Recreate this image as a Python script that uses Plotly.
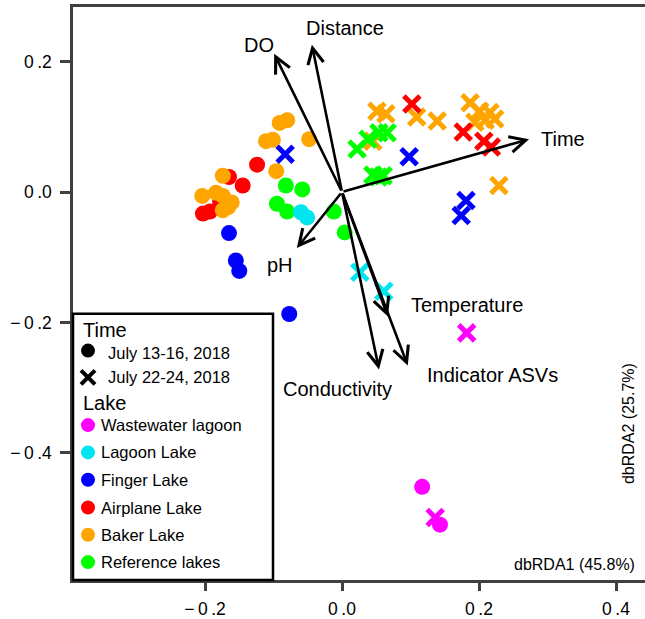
import plotly.graph_objects as go

# ---------------- data (site scores on dbRDA1 / dbRDA2) ----------------
lake_names = ["Wastewater lagoon", "Lagoon Lake", "Finger Lake",
              "Airplane Lake", "Baker Lake", "Reference lakes"]
lake_colors = ["#FF00FF", "#00E5EE", "#0000FF", "#FF0000", "#FFA500", "#00FF00"]
time_names = ["July 13-16, 2018", "July 22-24, 2018"]

# July 13-16 (circles)
wastewater_t1_x = [0.117, 0.143]
wastewater_t1_y = [-0.452, -0.510]
lagoon_t1_x = [-0.060, -0.051]
lagoon_t1_y = [-0.031, -0.039]
finger_t1_x = [-0.165, -0.155, -0.150, -0.077]
finger_t1_y = [-0.063, -0.105, -0.121, -0.187]
airplane_t1_x = [-0.124, -0.145, -0.203, -0.193, -0.165, -0.178]
airplane_t1_y = [0.042, 0.010, -0.033, -0.030, 0.023, -0.015]
baker_t1_x = [-0.091, -0.080, -0.111, -0.101, -0.048, -0.096, -0.174,
              -0.204, -0.184, -0.174, -0.166, -0.161, -0.174]
baker_t1_y = [0.106, 0.110, 0.078, 0.080, 0.081, 0.032, 0.025,
              -0.006, -0.001, -0.006, -0.023, -0.016, -0.028]
reference_t1_x = [-0.082, -0.058, -0.095, -0.080, -0.012, 0.004]
reference_t1_y = [0.010, 0.004, -0.018, -0.030, -0.030, -0.062]

# July 22-24 (crosses)
wastewater_t2_x = [0.136, 0.182]
wastewater_t2_y = [-0.499, -0.216]
lagoon_t2_x = [0.026, 0.061]
lagoon_t2_y = [-0.123, -0.152]
finger_t2_x = [-0.083, 0.098, 0.181, 0.174]
finger_t2_y = [0.058, 0.054, -0.013, -0.036]
airplane_t2_x = [0.102, 0.177, 0.207, 0.218]
airplane_t2_y = [0.135, 0.092, 0.078, 0.069]
baker_t2_x = [0.051, 0.064, 0.045, 0.109, 0.139, 0.187, 0.201, 0.216,
              0.209, 0.223, 0.194, 0.229]
baker_t2_y = [0.124, 0.120, 0.078, 0.115, 0.109, 0.137, 0.124, 0.122,
              0.110, 0.112, 0.107, 0.010]
reference_t2_x = [0.022, 0.038, 0.054, 0.066, 0.045, 0.060, 0.053]
reference_t2_y = [0.066, 0.081, 0.091, 0.091, 0.026, 0.025, 0.023]

# environmental vectors (biplot arrows) and their label positions
env_names = ["DO", "Distance", "Time", "pH", "Temperature",
             "Conductivity", "Indicator ASVs"]
env_x = [-0.099, -0.044, 0.273, -0.066, 0.067, 0.054, 0.096]
env_y = [0.212, 0.226, 0.081, -0.086, -0.191, -0.272, -0.266]
env_label_x = [-0.121, 0.004, 0.323, -0.0905, 0.1825, -0.006, 0.219]
env_label_y = [0.226, 0.252, 0.081, -0.112, -0.173, -0.302, -0.281]

x_tick_vals = [-0.2, 0.0, 0.2, 0.4]
x_tick_text = ["\u2212\u20090\u2009.2", "0\u2009.0", "0\u2009.2", "0\u2009.4"]
y_tick_vals = [-0.4, -0.2, 0.0, 0.2]
y_tick_text = ["\u2212\u20090\u2009.4", "\u2212\u20090\u2009.2", "0\u2009.0", "0\u2009.2"]

x_title = "dbRDA1 (45.8%)"
y_title = "dbRDA2 (25.7%)"

# ---------------- figure ----------------
FONT = "Liberation Sans, Arial, Helvetica, sans-serif"
W, H = 645, 619
PL, PR, PT, PB = 73, 645, 7, 584


def px_x(p):
    return (p - PL) / (PR - PL)


def px_y(p):
    return (PB - p) / (PB - PT)


fig = go.Figure()

t1 = {
    "Airplane Lake": (airplane_t1_x, airplane_t1_y),
    "Baker Lake": (baker_t1_x, baker_t1_y),
    "Reference lakes": (reference_t1_x, reference_t1_y),
    "Lagoon Lake": (lagoon_t1_x, lagoon_t1_y),
    "Finger Lake": (finger_t1_x, finger_t1_y),
    "Wastewater lagoon": (wastewater_t1_x, wastewater_t1_y),
}
t2 = {
    "Baker Lake": (baker_t2_x, baker_t2_y),
    "Airplane Lake": (airplane_t2_x, airplane_t2_y),
    "Reference lakes": (reference_t2_x, reference_t2_y),
    "Lagoon Lake": (lagoon_t2_x, lagoon_t2_y),
    "Finger Lake": (finger_t2_x, finger_t2_y),
    "Wastewater lagoon": (wastewater_t2_x, wastewater_t2_y),
}
color_of = dict(zip(lake_names, lake_colors))

for name, (xs, ys) in t1.items():
    fig.add_trace(go.Scatter(
        x=xs, y=ys, mode="markers", showlegend=False, hoverinfo="skip",
        marker=dict(symbol="circle", size=16, color=color_of[name],
                    line=dict(width=0))))
for name, (xs, ys) in t2.items():
    fig.add_trace(go.Scatter(
        x=xs, y=ys, mode="markers", showlegend=False, hoverinfo="skip",
        marker=dict(symbol="x-thin", size=16, color=color_of[name],
                    line=dict(width=5, color=color_of[name]))))

annotations = []
for ex, ey in zip(env_x, env_y):
    annotations.append(dict(
        x=ex, y=ey, xref="x", yref="y", ax=0, ay=0, axref="x", ayref="y",
        text="", showarrow=True, arrowhead=5, arrowsize=1.2,
        arrowwidth=2.6, arrowcolor="black", standoff=0))
for name, lx, ly in zip(env_names, env_label_x, env_label_y):
    annotations.append(dict(
        x=lx, y=ly, xref="x", yref="y", text=name, showarrow=False,
        xanchor="center", yanchor="middle",
        font=dict(family=FONT, size=20, color="black")))

# axis titles (drawn inside the frame)
annotations.append(dict(
    x=px_x(637), y=px_y(568), xref="paper", yref="paper", text=x_title,
    showarrow=False, xanchor="right", yanchor="middle",
    font=dict(family=FONT, size=16, color="black")))
annotations.append(dict(
    x=px_x(628), y=px_y(427), xref="paper", yref="paper", text=y_title,
    showarrow=False, textangle=-90, xanchor="center", yanchor="middle",
    font=dict(family=FONT, size=16, color="black")))

# ---------------- legend (drawn by hand) ----------------
shapes = [dict(type="rect", xref="paper", yref="paper",
               x0=px_x(73), x1=px_x(273), y0=px_y(584), y1=px_y(316),
               line=dict(color="black", width=2.5), fillcolor="white",
               layer="above")]

annotations.append(dict(
    x=px_x(81), y=px_y(332), xref="paper", yref="paper", text="Time",
    showarrow=False, xanchor="left", yanchor="middle",
    font=dict(family=FONT, size=20, color="black")))
annotations.append(dict(
    x=px_x(81), y=px_y(406), xref="paper", yref="paper", text="Lake",
    showarrow=False, xanchor="left", yanchor="middle",
    font=dict(family=FONT, size=20, color="black")))

# time entries
shapes.append(dict(type="circle", xref="paper", yref="paper",
                   xsizemode="pixel", ysizemode="pixel",
                   xanchor=px_x(88), yanchor=px_y(353),
                   x0=-7, x1=7, y0=-7, y1=7,
                   fillcolor="black", line=dict(width=0), layer="above"))
for sx in (1, -1):
    shapes.append(dict(type="line", xref="paper", yref="paper",
                       xsizemode="pixel", ysizemode="pixel",
                       xanchor=px_x(88), yanchor=px_y(380),
                       x0=-7, x1=7, y0=-7 * sx, y1=7 * sx,
                       line=dict(color="black", width=4), layer="above"))
for tname, ty in zip(time_names, [355, 380]):
    annotations.append(dict(
        x=px_x(106), y=px_y(ty), xref="paper", yref="paper", text=tname,
        showarrow=False, xanchor="left", yanchor="middle",
        font=dict(family=FONT, size=16.5, color="black")))

lake_rows = [428, 455.5, 483, 511, 538.5, 566]
for lname, lcol, ly in zip(lake_names, lake_colors, lake_rows):
    shapes.append(dict(type="circle", xref="paper", yref="paper",
                       xsizemode="pixel", ysizemode="pixel",
                       xanchor=px_x(88), yanchor=px_y(ly),
                       x0=-7, x1=7, y0=-7, y1=7,
                       fillcolor=lcol, line=dict(width=0), layer="above"))
    annotations.append(dict(
        x=px_x(99), y=px_y(ly), xref="paper", yref="paper", text=lname,
        showarrow=False, xanchor="left", yanchor="middle",
        font=dict(family=FONT, size=16.5, color="black")))

AX = "#404040"
fig.update_layout(
    width=W, height=H, autosize=False,
    margin=dict(l=PL, r=W - PR, t=PT, b=H - PB, pad=0),
    paper_bgcolor="white", plot_bgcolor="white",
    showlegend=False, hovermode=False,
    font=dict(family=FONT, color="black"),
    xaxis=dict(range=[-0.3927, 0.4423], showgrid=False, zeroline=False,
               showline=True, linecolor=AX, linewidth=2.5, mirror=True,
               ticks="outside", ticklen=8, tickwidth=2.5, tickcolor=AX,
               tickvals=x_tick_vals, ticktext=x_tick_text,
               tickfont=dict(family=FONT, size=17.5, color="black"),
               ticklabelstandoff=3),
    yaxis=dict(range=[-0.5949, 0.2837], showgrid=False, zeroline=False,
               showline=True, linecolor=AX, linewidth=2.5, mirror=False,
               ticks="outside", ticklen=10, tickwidth=2.5, tickcolor=AX,
               tickvals=y_tick_vals, ticktext=y_tick_text,
               tickfont=dict(family=FONT, size=17.5, color="black"),
               ticklabelstandoff=5),
    shapes=shapes,
    annotations=annotations,
)

fig.write_html(
    "out.html",
    config={"displayModeBar": False},
    post_script=("document.body.style.margin='0px';"
                 "document.body.style.overflow='hidden';"
                 "document.documentElement.style.overflow='hidden';"),
)
